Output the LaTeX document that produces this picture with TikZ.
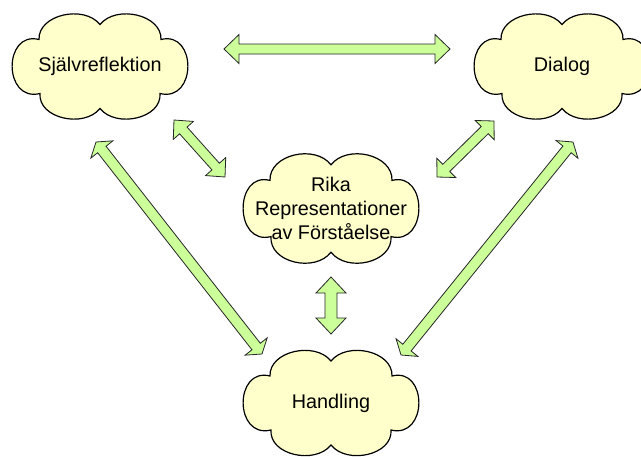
\documentclass[tikz,border=0pt]{standalone}
\usepackage{fontspec}
\setmainfont{Liberation Sans}
\usetikzlibrary{calc}

\definecolor{cloudfill}{HTML}{FFFFCC}
\definecolor{arrowfill}{HTML}{CCFF99}

\tikzset{
  cloudtext/.style={font=\fontsize{19.8}{24}\selectfont, align=center, inner sep=0pt},
  cloudline/.style={draw=black, line width=1.2pt, fill=cloudfill, line join=miter},
  blockarrow/.style={draw=black!85, line width=0.8pt, fill=arrowfill, line join=miter},
}

% A six-puff cloud centred at #2 carrying the label #3, named #1; #4 stretches it vertically
\newcommand\cloudnode[4]{%
  \path[cloudline, shift={#2}, yscale=#4]
    (0,42) .. controls (16,62) and (62,52) .. (60,27)
    .. controls (97,36) and (97,-36) .. (61,-27)
    .. controls (62,-52) and (16,-62) .. (0,-42)
    .. controls (-16,-62) and (-62,-52) .. (-61,-27)
    .. controls (-97,-36) and (-97,36) .. (-60,27)
    .. controls (-62,52) and (-16,62) .. (0,42) -- cycle;
  \node[cloudtext] (#1) at #2 {#3};
}

% Double-headed block arrow between the tips #1 and #2:
% #3 half shaft width, #4 half head width, #5 head length
\newcommand\fatarrow[5]{%
  \coordinate (fa-h1) at ($(#1)!#5!(#2)$);
  \coordinate (fa-h2) at ($(#2)!#5!(#1)$);
  \path[blockarrow] (#1)
    -- ($(fa-h1)!#4!90:(#2)$) -- ($(fa-h1)!#3!90:(#2)$)
    -- ($(fa-h2)!#3!90:(#2)$) -- ($(fa-h2)!#4!90:(#2)$)
    -- (#2)
    -- ($(fa-h2)!#4!-90:(#2)$) -- ($(fa-h2)!#3!-90:(#2)$)
    -- ($(fa-h1)!#3!-90:(#2)$) -- ($(fa-h1)!#4!-90:(#2)$)
    -- cycle;
}

\begin{document}
\begin{tikzpicture}[x=1pt, y=-1pt]
  \fill[white] (0,0) rectangle (641,456);
  \useasboundingbox (0,0) rectangle (641,456);

  % clouds
  \cloudnode{self}{(100,66.5)}{Självreflektion}{1}
  \cloudnode{dialog}{(562,66.5)}{Dialog}{1}
  \cloudnode{rich}{(331,208.5)}{Rika\\Representationer\\av Förståelse}{1.04}
  \cloudnode{action}{(331,403)}{Handling}{1}

  % arrow tips
  \coordinate (sd1) at (224,49);   \coordinate (sd2) at (450,49);
  \coordinate (sr1) at (174,120);  \coordinate (sr2) at (225,177);
  \coordinate (dr1) at (494,121);  \coordinate (dr2) at (437,177);
  \coordinate (sa1) at (96,142);   \coordinate (sa2) at (262,354);
  \coordinate (da1) at (573,142);  \coordinate (da2) at (401,355);
  \coordinate (ra1) at (331,277);  \coordinate (ra2) at (331,334);

  % connectors
  \fatarrow{sd1}{sd2}{5pt}{14.5pt}{15pt}
  \fatarrow{sr1}{sr2}{5pt}{13.5pt}{14pt}
  \fatarrow{dr1}{dr2}{5pt}{13.5pt}{13pt}
  \fatarrow{sa1}{sa2}{5.3pt}{14pt}{9.5pt}
  \fatarrow{da1}{da2}{5.3pt}{14pt}{9.5pt}
  \fatarrow{ra1}{ra2}{6pt}{15pt}{16pt}
\end{tikzpicture}
\end{document}
